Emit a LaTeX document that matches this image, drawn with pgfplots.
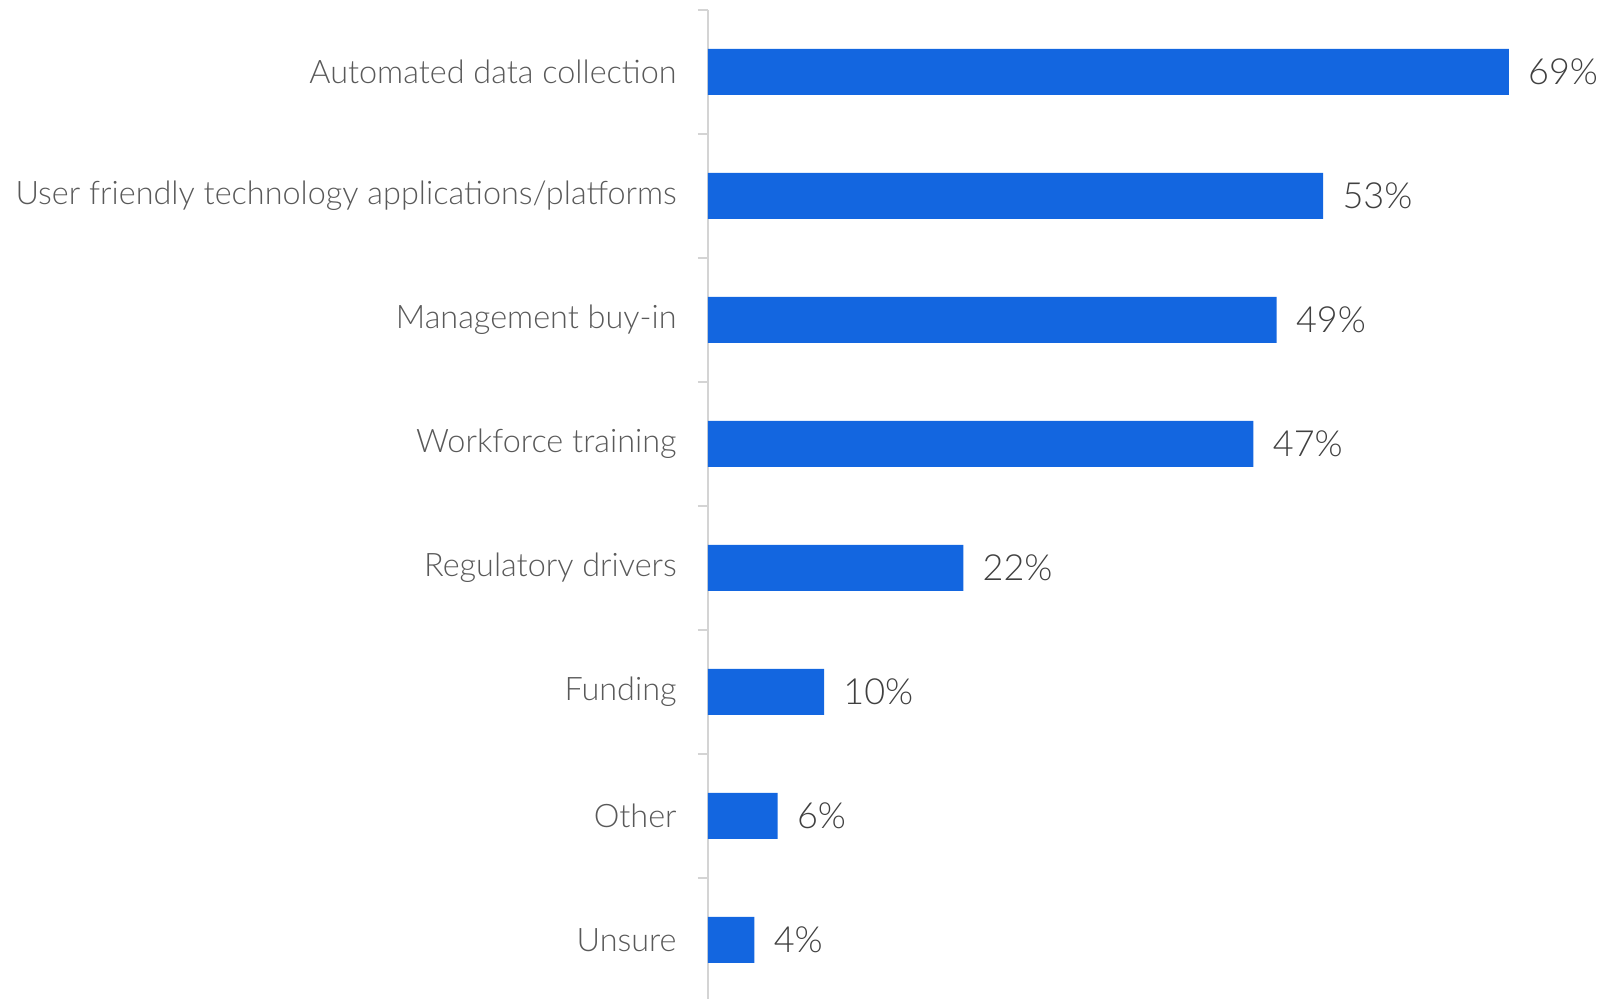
\documentclass[border=0pt]{standalone}
\usepackage{fontspec}
\setmainfont{Lato}[UprightFont={* Light}]
\usepackage{pgfplots}
\pgfplotsset{compat=1.18}
\definecolor{barblue}{HTML}{1366E0}
\definecolor{labelgray}{HTML}{595959}
\definecolor{valuegray}{HTML}{404040}
\definecolor{axisgray}{HTML}{D4D4D4}

\begin{document}
\begin{tikzpicture}
\begin{axis}[
  scale only axis,
  width=448bp, height=494.5bp,
  xbar, bar width=23bp, bar shift=0pt,
  xmin=0, xmax=77.2,
  ymin=-0.5, ymax=7.476,
  y dir=reverse,
  axis x line=none,
  axis y line*=left,
  y axis line style={-, draw=axisgray, line width=1bp},
  ytick={0,...,7},
  yticklabels={Automated data collection, User friendly technology applications/platforms, Management buy-in, Workforce training, Regulatory drivers, Funding, Other, Unsure},
  major tick length=0pt,
  minor ytick={-0.5,0.5,1.5,2.5,3.5,4.5,5.5,6.5},
  minor tick length=5bp,
  tick align=outside,
  tick style={draw=axisgray, line width=1bp},
  yticklabel style={font=\fontsize{16.2bp}{19bp}\selectfont, color=labelgray, inner sep=0pt, xshift=-15.5bp},
  /pgf/number format/assume math mode=true,
  nodes near coords={\pgfmathprintnumber{\pgfplotspointmeta}\%},
  nodes near coords style={font=\fontsize{18bp}{21bp}\selectfont, color=valuegray, anchor=west, inner sep=0pt, xshift=9.5bp},
  clip=false,
]
% share of respondents (%)
\addplot[fill=barblue, draw=none] coordinates {
  (69,0) (53,1) (49,2) (47,3) (22,4) (10,5) (6,6) (4,7)
};
\end{axis}
\pgfresetboundingbox
\path ([xshift=-354bp]current axis.south west) rectangle ([yshift=5bp]current axis.north east);
\end{tikzpicture}
\end{document}
